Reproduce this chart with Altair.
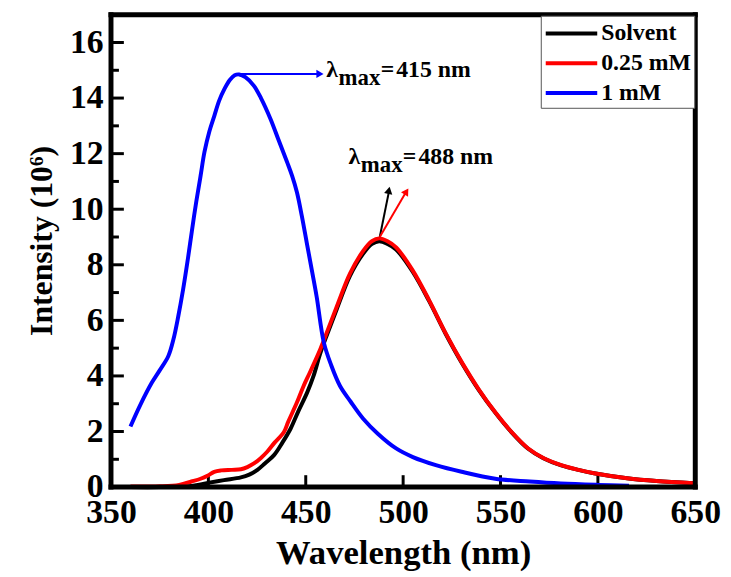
import altair as alt
import pandas as pd

FONT = "Liberation Serif"

# ---------------- data ----------------
series_names = ["Solvent", "0.25 mM", "1 mM"]
series_colors = ["#000000", "#ff0000", "#0000ff"]

solvent_wl = [360, 375, 390, 399.8, 408, 416.7, 421, 425.2, 429, 433.7, 438, 442.2, 446, 450.7,
              454, 457.4, 461, 465.9, 472.7, 479.5, 484, 487.7, 492, 496.4, 504.9, 513.3, 521.8,
              530.3, 538.8, 547.3, 555.7, 564.2, 572, 581.2, 590, 598, 615, 630, 649]
solvent_int = [0.0, 0.0, 0.03, 0.15, 0.25, 0.35, 0.45, 0.62, 0.85, 1.15, 1.6, 2.1, 2.7, 3.4,
               4.0, 4.8, 5.5, 6.4, 7.6, 8.4, 8.75, 8.85, 8.75, 8.55, 7.75, 6.7, 5.52,
               4.45, 3.5, 2.68, 1.97, 1.38, 1.04, 0.78, 0.62, 0.5, 0.32, 0.22, 0.14]

mM025_wl = [360, 375, 385, 391.3, 396, 399.8, 403, 406.6, 412, 416.7, 420, 423.4, 427, 430.2, 434,
            438.8, 441, 445.5, 448.9, 452.3, 457.4, 459.1, 465.9, 472.7, 479.5, 484, 487.7, 492,
            496.4, 504.9, 513.3, 521.8, 530.3, 538.8, 547.3, 555.7, 564.2, 572, 581.2, 590, 598,
            615, 630, 649]
mM025_int = [0.02, 0.03, 0.08, 0.2, 0.3, 0.42, 0.55, 0.6, 0.62, 0.64, 0.72, 0.85, 1.05, 1.27, 1.6,
             1.98, 2.35, 3.05, 3.64, 4.15, 4.95, 5.25, 6.49, 7.68, 8.5, 8.85, 8.95, 8.85,
             8.63, 7.8, 6.73, 5.54, 4.47, 3.52, 2.69, 1.98, 1.39, 1.05, 0.79, 0.62, 0.5,
             0.32, 0.22, 0.14]

mM1_wl = [360, 365, 371, 375, 379.4, 382, 384.5, 387, 389.6, 391.5, 393.8, 396, 398, 400.5, 403.1,
          405.5, 408.2, 411, 413.5, 415.8, 419, 423.4, 427, 431.9, 436, 440.4, 443, 445.5, 448,
          450.5, 453, 455.6, 459.3, 463, 467.6, 473, 479.5, 487, 496.4, 505, 516.8, 530, 547.3,
          565, 581, 600, 616]
mM1_int = [2.18, 2.95, 3.76, 4.2, 4.71, 5.3, 6.13, 7.1, 8.27, 9.2, 10.28, 11.2, 12.06, 12.8, 13.37,
           13.9, 14.32, 14.65, 14.82, 14.85, 14.75, 14.44, 14.0, 13.25, 12.5, 11.7, 11.2, 10.6, 9.75,
           8.8, 7.85, 6.85, 5.2, 4.4, 3.64, 3.08, 2.46, 1.92, 1.39, 1.08, 0.79, 0.55, 0.3,
           0.2, 0.13, 0.08, 0.05]

x_ticks = [350, 400, 450, 500, 550, 600, 650]
y_ticks = [0, 2, 4, 6, 8, 10, 12, 14, 16]
y_minor = [1, 3, 5, 7, 9, 11, 13, 15]
x_inner_ticks = [400, 450, 500, 550, 600]

# frame edges (data units)
frame_x = [350, 650, 350, 350]
frame_x2 = [350, 650, 650, 650]
frame_y = [0, 0, 0, 17]
frame_y2 = [17, 17, 0, 17]

# annotation arrows (start -> end in data units)
arrow_x = [415.8, 488.0, 488.0]
arrow_y = [14.87, 9.0, 9.0]
arrow_x2 = [458.0, 492.9, 501.5]
arrow_y2 = [14.87, 10.7, 10.62]
arrow_color = ["#0000ff", "#000000", "#ff0000"]
arrow_head_x = [457.3, 492.7, 501.7]
arrow_head_y = [14.87, 10.68, 10.64]
arrow_head_angle = [90, 11.5, 32]

ann_x = [460.5, 471.9]
ann_y = [14.75, 11.63]
ann_rest = ["=\u200a415 nm", "=\u200a488 nm"]

# ---------------- build tables ----------------
rows = []
for name, xs, ys in [("Solvent", solvent_wl, solvent_int),
                     ("0.25 mM", mM025_wl, mM025_int),
                     ("1 mM", mM1_wl, mM1_int)]:
    for a, b in zip(xs, ys):
        rows.append({"wl": a, "inten": b, "series": name})
df = pd.DataFrame(rows)

W, H = 590, 477
xscale = alt.Scale(domain=[350, 650], nice=False, zero=False)
yscale = alt.Scale(domain=[0, 17], nice=False)

x_axis = alt.Axis(values=x_ticks, title="Wavelength (nm)", format="d",
                  labelFont=FONT, labelFontSize=34, labelFontWeight="bold", labelColor="black",
                  labelPadding=9, labelFlush=False, labelOverlap=False, labelBound=False,
                  ticks=False, tickSize=0, domain=False, grid=False,
                  titleFont=FONT, titleFontSize=35, titleFontWeight="bold", titleColor="black",
                  titleX=295, titleY=77, titleAlign="center", titleBaseline="alphabetic")
y_axis = alt.Axis(values=y_ticks, title="Intensity (10\u2076)", format="d",
                  labelFont=FONT, labelFontSize=34, labelFontWeight="bold", labelColor="black",
                  labelPadding=8, labelFlush=False, labelOverlap=False, labelBound=False,
                  ticks=False, tickSize=0, domain=False, grid=False,
                  titleFont=FONT, titleFontSize=32, titleFontWeight="bold", titleColor="black",
                  titleX=-60, titleY=228, titleAngle=270, titleAlign="center",
                  titleBaseline="alphabetic")

lines = alt.Chart(df).mark_line(strokeWidth=4, interpolate="catmull-rom").encode(
    x=alt.X("wl:Q", scale=xscale, axis=x_axis),
    y=alt.Y("inten:Q", scale=yscale, axis=y_axis),
    color=alt.Color("series:N",
                    scale=alt.Scale(domain=series_names, range=series_colors),
                    sort=series_names,
                    legend=alt.Legend(title=None, orient="none", legendX=434, legendY=1,
                                      symbolType="M-2,0H2", symbolSize=676, symbolStrokeWidth=4,
                                      symbolOffset=13,
                                      labelFont=FONT, labelFontSize=24, labelFontWeight="bold",
                                      labelColor="black", labelOffset=15, labelLimit=300,
                                      strokeColor="#555555", fillColor="white", padding=3,
                                      rowPadding=3)),
)

frame_df = pd.DataFrame({"wl": frame_x, "wl2": frame_x2, "inten": frame_y, "inten2": frame_y2})
frame = alt.Chart(frame_df).mark_rule(color="black", strokeWidth=5, strokeCap="square").encode(
    x=alt.X("wl:Q", scale=xscale), x2="wl2:Q",
    y=alt.Y("inten:Q", scale=yscale), y2="inten2:Q")

ymaj = alt.Chart(pd.DataFrame({"inten": y_ticks})).mark_rule(color="black", strokeWidth=3).encode(
    y=alt.Y("inten:Q", scale=yscale), x=alt.value(0), x2=alt.value(13))
ymin = alt.Chart(pd.DataFrame({"inten": y_minor})).mark_rule(color="black", strokeWidth=3).encode(
    y=alt.Y("inten:Q", scale=yscale), x=alt.value(0), x2=alt.value(8))
xmaj = alt.Chart(pd.DataFrame({"wl": x_inner_ticks})).mark_rule(color="black", strokeWidth=3).encode(
    x=alt.X("wl:Q", scale=xscale), y=alt.value(H), y2=alt.value(H - 12))

arr_df = pd.DataFrame({"wl": arrow_x, "inten": arrow_y, "wl2": arrow_x2, "inten2": arrow_y2,
                       "col": arrow_color, "hx": arrow_head_x, "hy": arrow_head_y,
                       "ang": arrow_head_angle})
arrows = alt.Chart(arr_df).mark_rule(strokeWidth=2).encode(
    x=alt.X("wl:Q", scale=xscale), y=alt.Y("inten:Q", scale=yscale),
    x2="wl2:Q", y2="inten2:Q", color=alt.Color("col:N", scale=None, legend=None))
heads = alt.Chart(arr_df).mark_point(shape="triangle-up", filled=True, size=70, opacity=1).encode(
    x=alt.X("hx:Q", scale=xscale), y=alt.Y("hy:Q", scale=yscale),
    angle=alt.Angle("ang:Q", scale=None),
    color=alt.Color("col:N", scale=None, legend=None))

ann_df = pd.DataFrame({"wl": ann_x, "inten": ann_y, "rest": ann_rest})
txt_style = dict(font=FONT, fontWeight="bold", color="black", align="left", baseline="alphabetic")
lam = alt.Chart(ann_df).mark_text(text="λ", fontSize=24, **txt_style).encode(
    x=alt.X("wl:Q", scale=xscale), y=alt.Y("inten:Q", scale=yscale))
sub = alt.Chart(ann_df).mark_text(text="max", fontSize=23, dx=12.5, dy=8, **txt_style).encode(
    x=alt.X("wl:Q", scale=xscale), y=alt.Y("inten:Q", scale=yscale))
rest = alt.Chart(ann_df).mark_text(fontSize=24, dx=55, **txt_style).encode(
    x=alt.X("wl:Q", scale=xscale), y=alt.Y("inten:Q", scale=yscale), text="rest:N")

chart = alt.layer(ymaj, ymin, xmaj, lines, arrows, heads, lam, sub, rest, frame).resolve_scale(
    color="independent"
).properties(
    width=W, height=H,
    autosize=alt.AutoSizeParams(type="none"),
    padding={"left": 104, "top": 4, "right": 28, "bottom": 85},
    background="white",
).configure_view(stroke=None)

chart.save("out.html", embed_options={"renderer": "svg", "actions": False})
